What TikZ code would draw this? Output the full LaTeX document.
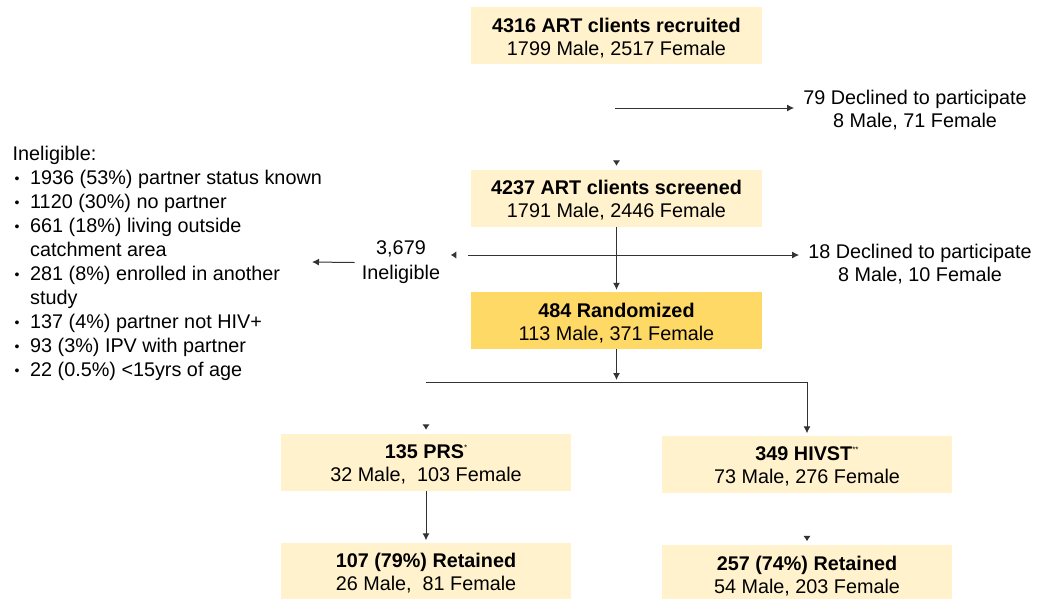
\documentclass[tikz,border=0pt]{standalone}
\usepackage{fontspec}
\setmainfont{Liberation Sans}
\usetikzlibrary{arrows.meta}
\definecolor{jauneclair}{HTML}{FFF2CC}
\definecolor{jaune}{HTML}{FFD966}
\begin{document}
\begin{tikzpicture}[x=1pt,y=-1pt]
% Styles
\tikzstyle{texte}=[font=\fontsize{19.8}{23}\selectfont,inner sep=7pt]
\tikzstyle{boite}=[texte,fill=jauneclair,align=center,minimum width=291pt,minimum height=57pt,inner sep=0pt]
\tikzstyle{boiteforte}=[boite,fill=jaune]
\tikzstyle{fleche}=[-{Latex[length=7pt,width=7pt]},line width=1pt,black!80,shorten >=2pt]
\tikzstyle{trait}=[line width=1pt,black!80]
\tikzstyle{fantome}=[fleche,draw=white,shorten >=3.5pt,-{Latex[length=5.5pt,width=7.5pt,color=black!80]}]
% Macros
\def\hautligne{\rule{0pt}{19pt}}
\def\etoile#1{\raisebox{8pt}{\fontsize{8}{8}\selectfont #1}}
\def\puce{\makebox[17.5pt][l]{\hspace{2pt}\raisebox{1.2pt}{\fontsize{14}{14}\selectfont\textbullet}}}
% Colonnes
\def\xc{616.5}
\def\xg{426}
\def\xd{807}
% Cadre
\useasboundingbox (0,0) rectangle (1037,598);
% Boites du milieu
\node[boite] (recrutes) at (\xc,35.5) {\hautligne\textbf{4316 ART clients recruited}\\1799 Male, 2517 Female};
\node[boite] (depistes) at (\xc,198) {\hautligne\textbf{4237 ART clients screened}\\1791 Male, 2446 Female};
\node[boiteforte] (randomises) at (\xc,320.5) {\hautligne\textbf{484 Randomized}\\113 Male, 371 Female};
% Bras
\node[boite,minimum width=290pt] (prs) at (\xg,462) {\hautligne\textbf{135 PRS}\etoile{*}\\32 Male,\ \ 103 Female};
\node[boite,minimum width=290pt] (hivst) at (\xd,464) {\hautligne\textbf{349 HIVST}\etoile{**}\\73 Male, 276 Female};
\node[boite,minimum width=290pt] (prsret) at (\xg,571) {\hautligne\textbf{107 (79\%) Retained}\\26 Male,\ \ 81 Female};
\node[boite,minimum width=290pt] (hivstret) at (\xd,573.5) {\hautligne\textbf{257 (74\%) Retained}\\54 Male, 203 Female};
% Sorties
\node[texte,align=center] (refus1) at (915,110.5) {79 Declined to participate\\8 Male, 71 Female};
\node[texte,align=center] (refus2) at (920,264) {18 Declined to participate\\8 Male, 10 Female};
\node[texte,align=center,font=\fontsize{19.8}{25}\selectfont] (inelig) at (401,262.5) {3,679\\Ineligible};
\node[texte,align=left,anchor=north west,inner sep=0pt,font=\fontsize{19.8}{24}\selectfont] (liste) at (12.5,146) {Ineligible:\\
\puce 1936 (53\%) partner status known\\
\puce 1120 (30\%) no partner\\
\puce 661 (18\%) living outside\\
\hspace*{17.5pt}catchment area\\
\puce 281 (8\%) enrolled in another\\
\hspace*{17.5pt}study\\
\puce 137 (4\%) partner not HIV+\\
\puce 93 (3\%) IPV with partner\\
\puce 22 (0.5\%) <15yrs of age};
% Points
\coordinate (c1) at (615,108);
\coordinate (c2) at (468,255);
\coordinate (c3) at (310,262);
\coordinate (embr) at (\xc,382);
\coordinate (embrG) at (\xg,382);
\coordinate (embrD) at (\xd,382);
% Fleches
\draw[fantome] (recrutes) -- (depistes);
\draw[fantome] (c2) -- (c2 -| inelig.east);
\draw[fantome] (embrG) -- (prs);
\draw[fantome] (hivst) -- (hivstret);
\draw[fleche] (c1) -- (c1 -| refus1.west);
\draw[fleche] (depistes) -- (randomises);
\draw[fleche] (c2) -- (c2 -| refus2.west);
\draw[fleche] (inelig.west) -- (c3);
\draw[fleche] (randomises) -- (embr);
\draw[trait] (embrG) -- (embrD);
\draw[fleche] (embrD) -- (hivst);
\draw[fleche] (prs) -- (prsret);
\end{tikzpicture}
\end{document}
